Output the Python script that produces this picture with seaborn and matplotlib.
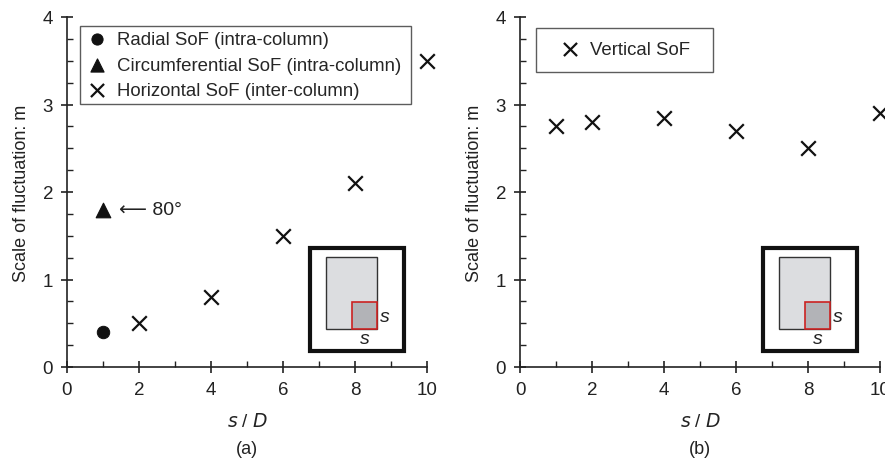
import matplotlib
matplotlib.use("Agg")
import matplotlib.pyplot as plt
import matplotlib.patches as patches
from matplotlib.ticker import MultipleLocator
import seaborn as sns

# Data
radial_x = [1]
radial_y = [0.4]
circ_x = [1]
circ_y = [1.8]
horiz_x = [2, 4, 6, 8, 10]
horiz_y = [0.5, 0.8, 1.5, 2.1, 3.5]
vert_x = [1, 2, 4, 6, 8, 10]
vert_y = [2.75, 2.8, 2.85, 2.7, 2.5, 2.9]

sns.set_style("ticks")
plt.rcParams["font.family"] = ["Liberation Sans", "DejaVu Sans"]

fig = plt.figure(figsize=(8.85, 4.64), dpi=100)
ax1 = fig.add_axes([67 / 885, 1 - 368 / 464, 360 / 885, 350 / 464])
ax2 = fig.add_axes([520 / 885, 1 - 368 / 464, 360 / 885, 350 / 464])


def style_axis(ax):
    ax.set_xlim(0, 10)
    ax.set_ylim(0, 4)
    ax.xaxis.set_major_locator(MultipleLocator(2))
    ax.xaxis.set_minor_locator(MultipleLocator(1))
    ax.yaxis.set_major_locator(MultipleLocator(1))
    ax.yaxis.set_minor_locator(MultipleLocator(0.25))
    ax.tick_params(which="major", direction="inout", length=8, width=1.2,
                   labelsize=13.5, colors="#222222", pad=6)
    ax.tick_params(which="minor", direction="in", length=4, width=1.0, colors="#222222")
    for side in ["top", "right"]:
        ax.spines[side].set_visible(False)
    for side in ["left", "bottom"]:
        ax.spines[side].set_linewidth(1.2)
        ax.spines[side].set_color("#222222")
    ax.set_xlabel("$s$ / $D$", fontsize=13.5, color="#222222", labelpad=10)
    ax.set_ylabel("Scale of fluctuation: m", fontsize=13, color="#222222", labelpad=9)


def draw_inset(ax):
    # small schematic in the lower right corner (axes fraction coordinates)
    outer = patches.Rectangle((0.675, 0.045), 0.26, 0.295, transform=ax.transAxes,
                              fill=False, lw=3, ec="#111111", clip_on=False, zorder=3)
    body = patches.Rectangle((0.72, 0.11), 0.14, 0.205, transform=ax.transAxes,
                             fc="#dcdde0", ec="#333333", lw=1.0, zorder=3)
    cell = patches.Rectangle((0.792, 0.11), 0.068, 0.075, transform=ax.transAxes,
                             fc="#b2b3b7", ec="#cc2222", lw=1.2, zorder=4)
    for p in [outer, body, cell]:
        ax.add_patch(p)
    ax.text(0.868, 0.143, "s", transform=ax.transAxes, fontsize=14, style="italic",
            ha="left", va="center", color="#222222")
    ax.text(0.828, 0.08, "s", transform=ax.transAxes, fontsize=14, style="italic",
            ha="center", va="center", color="#222222")


# (a)
sns.scatterplot(x=radial_x, y=radial_y, marker="o", s=80, color="#111111",
                edgecolor="#111111", label="Radial SoF (intra-column)", ax=ax1, zorder=5)
sns.scatterplot(x=circ_x, y=circ_y, marker="^", s=110, color="#111111",
                edgecolor="#111111", label="Circumferential SoF (intra-column)", ax=ax1, zorder=5)
sns.scatterplot(x=horiz_x, y=horiz_y, marker="x", s=110, color="#111111",
                linewidth=1.6, label="Horizontal SoF (inter-column)", ax=ax1,
                zorder=5, clip_on=False)
ax1.annotate("\u27f5 80\u00b0", xy=(1.45, 1.8), fontsize=14, va="center",
             color="#222222")
style_axis(ax1)
draw_inset(ax1)
leg1 = ax1.legend(loc="upper left", bbox_to_anchor=(0.036, 0.974, 0.919, 0.0),
                  mode="expand", fontsize=13.4,
                  frameon=True, fancybox=False, edgecolor="#333333",
                  handletextpad=0.4, borderpad=0.28, labelspacing=0.45, handlelength=1.3,
                  borderaxespad=0.0, markerscale=0.9)
leg1.get_frame().set_linewidth(1.0)
fig.text(247 / 885, 1 - 450 / 464, "(a)", ha="center", va="center", fontsize=13,
         color="#222222")

# (b)
sns.scatterplot(x=vert_x, y=vert_y, marker="x", s=110, color="#111111",
                linewidth=1.6, label="Vertical SoF", ax=ax2, zorder=5, clip_on=False)
style_axis(ax2)
draw_inset(ax2)
leg2 = ax2.legend(loc="upper left", bbox_to_anchor=(0.044, 0.969, 0.492, 0.0),
                  mode="expand", fontsize=13.4,
                  frameon=True, fancybox=False, edgecolor="#333333",
                  handletextpad=0.0, borderpad=0.72, handlelength=2.2,
                  borderaxespad=0.0, markerscale=0.9)
leg2.get_frame().set_linewidth(1.0)
fig.text(700 / 885, 1 - 450 / 464, "(b)", ha="center", va="center", fontsize=13,
         color="#222222")

fig.savefig("out.png", dpi=100)
